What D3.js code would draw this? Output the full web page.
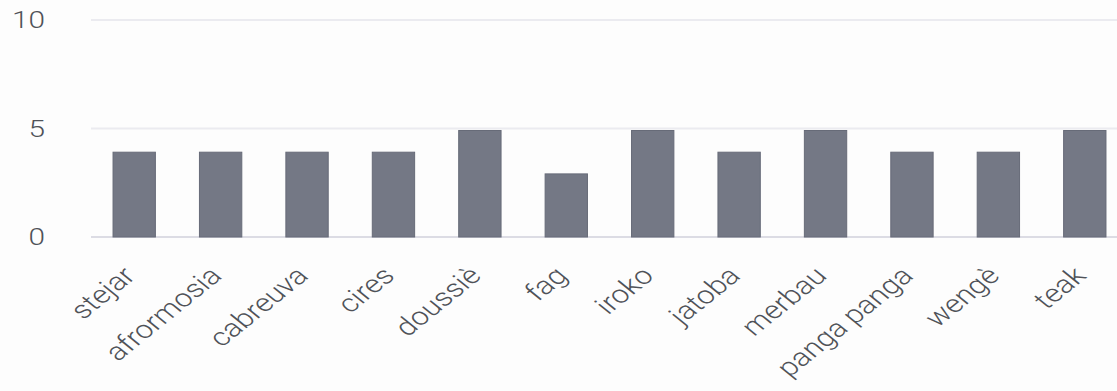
<!DOCTYPE html>
<html>
<head>
<meta charset="utf-8">
<script src="https://cdn.jsdelivr.net/npm/d3@7"></script>
<style>
    body { margin: 0; background: #fdfdfd; }
    svg { display: block; }
    .tick-label { font-family: Roboto, "Noto Sans", sans-serif; font-weight: 300; fill: #4f5258; }
</style>
</head>
<body>
<div id="chart"></div>
<script>
// data
var woods = ["stejar", "afrormosia", "cabreuva", "cires", "doussiè", "fag",
    "iroko", "jatoba", "merbau", "panga panga", "wengè", "teak"];
var ratings = [4, 4, 4, 4, 5, 3, 5, 4, 5, 4, 4, 5];
var yTicks = [0, 5, 10];

var width = 1117, height = 391;
// the picture looks stretched sideways, text gets the same squeeze
var stretch = 1.24;

var svg = d3.select("#chart").append("svg")
    .attr("width", width)
    .attr("height", height);

// scales
var x = d3.scaleBand()
    .domain(woods)
    .range([91, 1128])
    .paddingInner(0.51)
    .paddingOuter(0.255);

var y = d3.scaleLinear()
    .domain([0, 10])
    .range([237, 20]);

// grid lines
svg.selectAll(".grid")
    .data(yTicks)
    .enter().append("line")
    .attr("class", "grid")
    .attr("x1", 91)
    .attr("x2", 1128)
    .attr("y1", function(d){ return y(d) })
    .attr("y2", function(d){ return y(d) })
    .attr("stroke", function(d){ return d == 0 ? "#dcdce4" : "#ebebf0" })
    .attr("stroke-width", 2);

// y labels
svg.selectAll(".y-label")
    .data(yTicks)
    .enter().append("text")
    .attr("class", "tick-label y-label")
    .attr("transform", function(d){
        return "translate(45," + y(d) + ") scale(" + stretch + ",1)";
    })
    .attr("dy", "0.35em")
    .attr("text-anchor", "end")
    .style("font-size", "24px")
    .text(function(d){ return d });

// bars
svg.selectAll(".bar")
    .data(ratings)
    .enter().append("rect")
    .attr("class", "bar")
    .attr("x", function(d, i){ return x(woods[i]) })
    .attr("width", x.bandwidth())
    .attr("y", function(d){ return y(d) + 2 })
    .attr("height", function(d){ return y(0) - y(d) - 2 })
    .attr("fill", "#747885")
    .attr("stroke", "#676b78")
    .attr("stroke-width", 1);

// x labels, rotated
svg.selectAll(".x-label")
    .data(woods)
    .enter().append("text")
    .attr("class", "tick-label x-label")
    .attr("text-anchor", "end")
    .attr("transform", function(d){
        return "translate(" + (x(d) + x.bandwidth() / 2 - 5) + ",271) scale(" + stretch + ",1) rotate(-45)";
    })
    .attr("dy", "0.35em")
    .style("font-size", "25px")
    .text(function(d){ return d });
</script>
</body>
</html>
